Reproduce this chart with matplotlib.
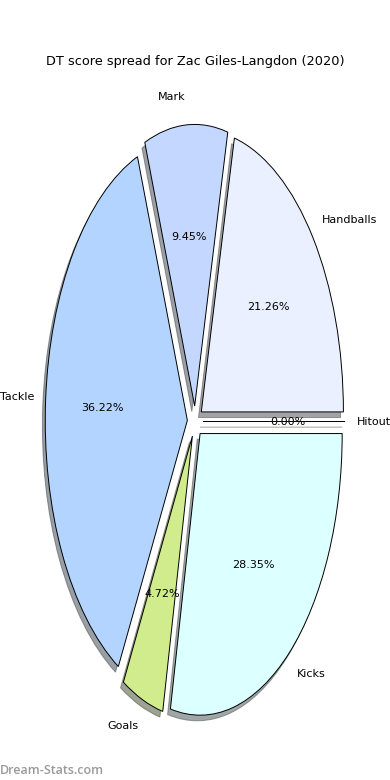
import matplotlib
matplotlib.use("Agg")
import matplotlib.pyplot as plt

labels = ["Handballs", "Mark", "Tackle", "Goals", "Kicks", "Hitout"]
values = [54, 24, 92, 12, 72, 0]
colors = ["#eaf0ff", "#c4d8ff", "#b3d4ff", "#d0ec8c", "#dcffff", "#f0e0c0"]
explode = [0.055] * len(values)

plt.rcParams["font.size"] = 8
fig = plt.figure(figsize=(3.9, 7.8), dpi=100)
ax = fig.add_axes([0.0449, 0.0083, 0.911, 0.9026])
wedges, texts, autotexts = ax.pie(
    values, labels=labels, colors=colors, explode=explode, startangle=0,
    autopct="%1.2f%%", shadow={"ox": -0.0144, "oy": -0.0144},
    wedgeprops=dict(edgecolor="black", linewidth=0.7),
    textprops=dict(fontsize=8))
ax.set_aspect("auto")
ax.set_xlim(-1.25, 1.25)
ax.set_ylim(-1.25, 1.25)
# labels sit slightly closer horizontally in the reference
for t in texts:
    x, y = t.get_position()
    t.set_x(x * 0.985)

fig.text(0.5, 1 - 61 / 780, "DT score spread for Zac Giles-Langdon (2020)",
         ha="center", va="center", fontsize=9.3)
fig.text(0.0, 1 - 770 / 780, "Dream-Stats.com", ha="left", va="center",
         fontsize=9, color="#9a9a9a", family="Open Sans", fontweight="semibold")

fig.savefig("out.png", dpi=100)
